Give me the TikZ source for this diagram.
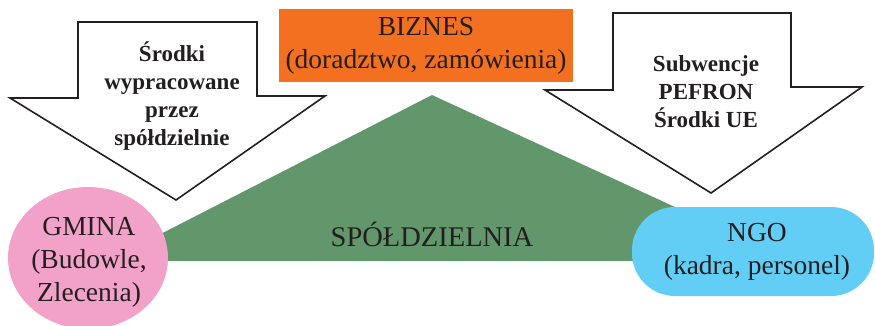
\documentclass[tikz,border=0pt]{standalone}
\usepackage{fontspec}
\setmainfont{Liberation Serif}
\usetikzlibrary{shapes.geometric}
\definecolor{bizorange}{HTML}{F37021}
\definecolor{coopgreen}{HTML}{62966B}
\definecolor{gminapink}{HTML}{F2A2C8}
\definecolor{ngoblue}{HTML}{62CDF5}
\definecolor{ink}{HTML}{231F20}
\tikzset{
  blockarrow/.style={draw=ink, fill=white, line width=1.6pt, line join=miter},
  boldlabel/.style={text=ink, align=center, font=\fontsize{23}{28}\selectfont\bfseries, inner sep=0pt},
  plainlabel/.style={text=ink, align=center, font=\fontsize{27.5}{33}\selectfont, inner sep=0pt},
}
\begin{document}
\begin{tikzpicture}[x=1pt,y=-1pt]
\useasboundingbox (0,0) rectangle (875,326);
% left block arrow
\draw[blockarrow] (78,22) -- (257,22) -- (257,96) -- (325,96) -- (176,200) -- (10,98) -- (78,98) -- cycle;
% right block arrow
\draw[blockarrow] (613,13) -- (791,13) -- (791,87) -- (862,87) -- (711,193) -- (545,90) -- (613,90) -- cycle;
% green triangle
\fill[coopgreen] (108,261) -- (432,95) -- (792,261) -- cycle;
% business box
\node[fill=bizorange, minimum width=294pt, minimum height=73pt, inner sep=0pt] (biznesbox) at (426,45.5) {};
\node[plainlabel] (biznes) at (426,46) {BIZNES\\(doradztwo, zamówienia)};
% gmina
\node[ellipse, fill=gminapink, minimum width=160pt, minimum height=142pt, inner sep=0pt] (gminabox) at (88,258) {};
\node[plainlabel] (gmina) at (89,262) {GMINA\\(Budowle,\\Zlecenia)};
% ngo
\node[fill=ngoblue, rounded corners=43pt, minimum width=242pt, minimum height=89pt, inner sep=0pt] (ngobox) at (753,251.5) {};
\node[plainlabel] (ngo) at (757,251.5) {NGO\\(kadra, personel)};
% cooperative label
\node[plainlabel, font=\fontsize{28.5}{33}\selectfont] (coop) at (432,234) {SPÓŁDZIELNIA};
% arrow labels
\node[boldlabel] (leftlbl) at (172,96) {Środki\\wypracowane\\przez\\spółdzielnie};
\node[boldlabel] (rightlbl) at (706,92) {Subwencje\\PEFRON\\Środki UE};
\end{tikzpicture}
\end{document}
